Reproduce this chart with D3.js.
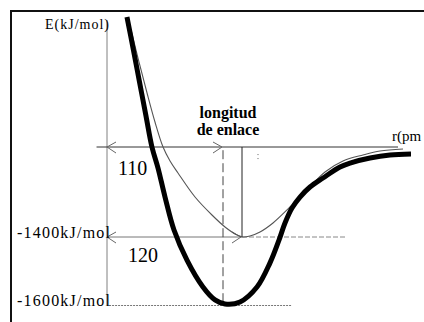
<!DOCTYPE html>
<html>
<head>
<script src="https://d3js.org/d3.v7.min.js"></script>
<title>Curva de energia de enlace</title>
<style>
  body { margin: 0; background: #fff; }
  svg text { font-family: "Liberation Serif", "Times New Roman", Tinos, "DejaVu Serif", serif; fill: #000; }
</style>
</head>
<body>
<div id="chart"></div>
<script>
// schematic values: r in pm, E in kJ/mol
const rTicks = [0, 110, 120];
const eTicks = [-1600, -1400, 0];
const levelLabels = ["-1600kJ/mol", "-1400kJ/mol"];
const bondLabels = ["110", "120"];

// deeper well (thick line), minimum near r = 110
const deepCurve = [
  [19.1, 2022], [24.9, 1540], [31.1, 1011], [37.3, 482], [43.0, 0],
  [48.8, -327], [55.5, -778], [64.1, -1291], [76.5, -1468], [91.8, -1547],
  [103.3, -1585], [111.5, -1597], [119, -1591], [127.5, -1547], [134, -1476],
  [138.5, -1409], [141.5, -1182], [145, -949], [149, -778], [154, -622],
  [160.5, -482], [169, -311], [174, -249], [184, -171], [194, -124], [204.5, -109]
];

// shallower well (thin line), minimum at r = 120
const shallowCurve = [
  [23.0, 1820], [30.6, 1322], [38.3, 840], [45.9, 389], [53.6, 0],
  [60.3, -218], [67.9, -404], [84.2, -778], [100.4, -1058], [111.5, -1244],
  [117.5, -1369], [120.5, -1400], [124, -1384], [129, -1322], [135.5, -1182],
  [144, -933], [152.5, -669], [161.5, -389], [170.5, -218], [180.5, -124],
  [189, -62], [200.5, -31]
];

const width = 424, height = 322;

const svg = d3.select("#chart")
  .append("svg")
  .attr("width", width)
  .attr("height", height)
  .attr("font-family", "Liberation Serif, Times New Roman, serif");

// the sketch is not to scale, so both scales are piecewise linear
const x = d3.scaleLinear().domain(rTicks).range([107, 222, 242]);
const y = d3.scaleLinear().domain(eTicks).range([305, 237, 147]);

// frame (cut off at right and bottom)
svg.append("rect")
  .attr("x", 11).attr("y", 11)
  .attr("width", 500).attr("height", 400)
  .attr("fill", "none")
  .attr("stroke", "#111")
  .attr("stroke-width", 2);

function seg(x1, y1, x2, y2, color, dash, w) {
  svg.append("line")
    .attr("x1", x1).attr("y1", y1).attr("x2", x2).attr("y2", y2)
    .attr("stroke", color)
    .attr("stroke-width", w || 1)
    .attr("stroke-dasharray", dash || null);
}

function arrowHead(px, py, dir) {
  // dir = 1 opens to the right ("<"), -1 opens to the left (">")
  svg.append("path")
    .attr("d", `M${px + dir * 9},${py - 5}L${px},${py}L${px + dir * 9},${py + 6}`)
    .attr("fill", "none")
    .attr("stroke", "#666")
    .attr("stroke-width", 1);
}

// axes
seg(x(0), 20, x(0), y(-1600), "#808080");
seg(x(-10), y(0), x(198), y(0), "#333");

// reference lines
seg(x(0), y(-1400), x(120), y(-1400), "#777");
seg(x(120), y(-1400), x(172), y(-1400), "#888", "5,2");
seg(x(2), y(-1600) + 0.5, x(145), y(-1600) + 0.5, "#777", "2,1");
seg(x(110) + 1, y(-50), x(110) + 1, y(-1590), "#444", "9,4");
seg(x(120), y(0), x(120), y(-1400), "#222");
seg(x(128), y(-110), x(128), y(-190), "#666", "1,3");

// bond length arrows
arrowHead(x(0), y(0), 1);
arrowHead(x(110), y(0), -1);
arrowHead(x(0), y(-1400), 1);
arrowHead(x(120) - 1, y(-1400), -1);

// curves
const line = d3.line()
  .x(d => x(d[0]))
  .y(d => y(d[1]))
  .curve(d3.curveCatmullRom.alpha(0.5));

svg.append("path")
  .datum(shallowCurve)
  .attr("d", line)
  .attr("fill", "none")
  .attr("stroke", "#555")
  .attr("stroke-width", 1.1);

svg.append("path")
  .datum(deepCurve)
  .attr("d", line)
  .attr("fill", "none")
  .attr("stroke", "#000")
  .attr("stroke-width", 5);

// labels
svg.append("text")
  .attr("x", 45).attr("y", 29)
  .attr("font-size", 14)
  .attr("textLength", 64)
  .attr("lengthAdjust", "spacing")
  .text("E(kJ/mol)");

svg.append("text")
  .attr("x", 392).attr("y", 141)
  .attr("font-size", 15)
  .text("r(pm");

svg.append("text")
  .attr("x", 228).attr("y", 118)
  .attr("text-anchor", "middle")
  .attr("font-size", 16)
  .attr("font-weight", "bold")
  .text("longitud");

svg.append("text")
  .attr("x", 228).attr("y", 135)
  .attr("text-anchor", "middle")
  .attr("font-size", 16)
  .attr("font-weight", "bold")
  .text("de enlace");

svg.selectAll(".level")
  .data(levelLabels)
  .enter()
  .append("text")
  .attr("class", "level")
  .attr("x", 17)
  .attr("y", (d, i) => y(eTicks[i]) + 1)
  .attr("font-size", 16)
  .attr("textLength", 93)
  .attr("lengthAdjust", "spacing")
  .text(d => d);

svg.selectAll(".bond")
  .data(bondLabels)
  .enter()
  .append("text")
  .attr("class", "bond")
  .attr("x", (d, i) => x(0) + 11 + i * 10)
  .attr("y", (d, i) => (i === 0 ? y(0) : y(-1400)) + (i === 0 ? 28 : 25))
  .attr("font-size", 20)
  .text(d => d);
</script>
</body>
</html>
